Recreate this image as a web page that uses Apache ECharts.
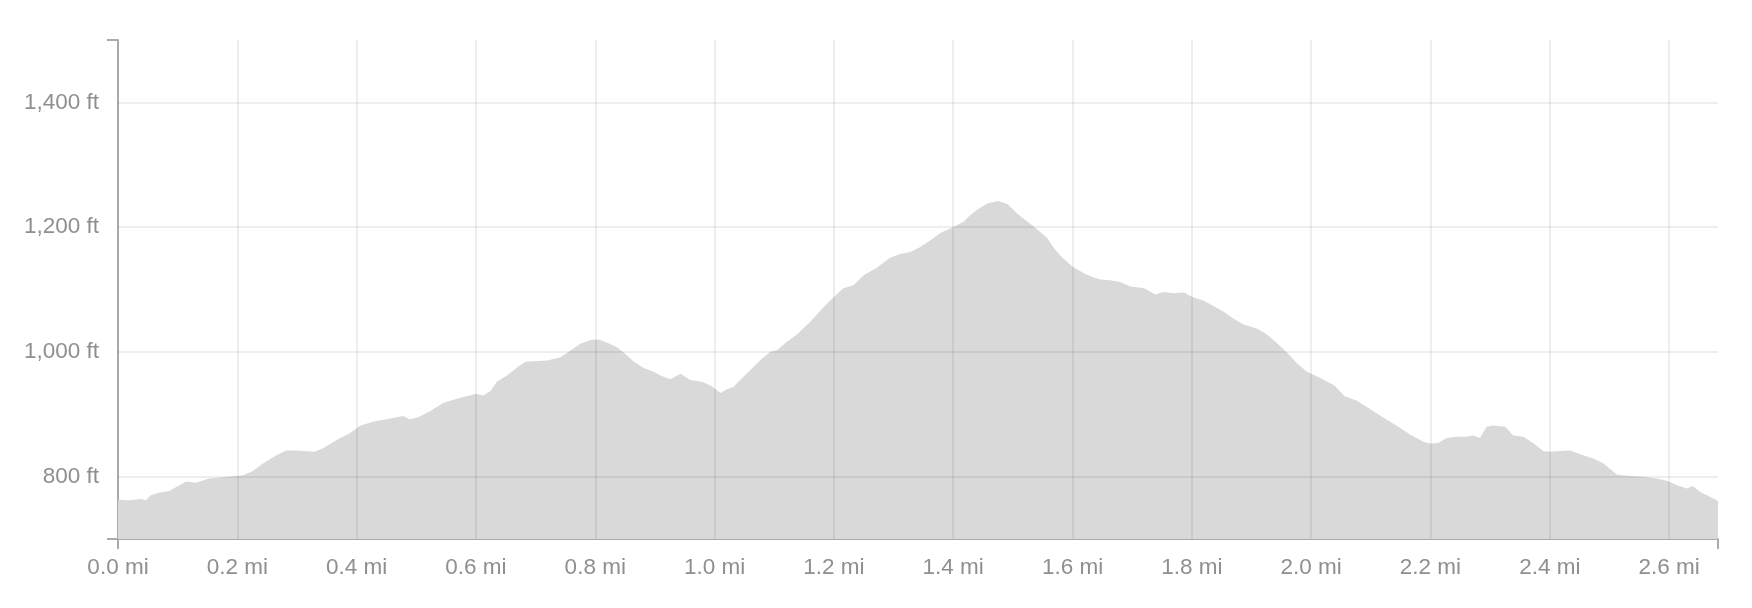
<!DOCTYPE html>
<html>
<head>
<meta charset="utf-8">
<script src="https://cdn.jsdelivr.net/npm/echarts@6/dist/echarts.min.js"></script>
<style>
html,body{margin:0;padding:0;background:#fff;}
#chart{width:1752px;height:608px;}
</style>
</head>
<body>
<div id="chart"></div>
<script>
// distance along trail (mi)
const distance = [
0,0.0185,0.038,0.0465,0.055,0.069,0.0857,0.097,0.114,0.1305,0.153,0.175,0.198,0.209,0.226,0.243,0.265,0.282,0.299,0.329,
0.343,0.357,0.371,0.388,0.405,0.427,0.45,0.478,0.489,0.503,0.523,0.545,0.568,0.584,0.6,0.612,0.624,0.635,0.652,
0.669,0.683,0.697,0.719,0.741,0.758,0.775,0.792,0.806,0.822,0.836,0.85,0.864,0.881,0.898,0.912,0.926,0.943,0.959,0.979,
0.993,1.001,1.01,1.021,1.032,1.043,1.06,1.077,1.093,1.105,1.121,1.138,1.16,1.183,1.199,1.216,1.233,1.25,1.272,1.294,1.311,1.328,
1.345,1.362,1.379,1.4,1.418,1.426,1.44,1.457,1.475,1.491,1.507,1.524,1.541,1.558,1.569,1.583,1.601,1.619,1.633,1.647,
1.664,1.68,1.697,1.72,1.739,1.753,1.77,1.787,1.801,1.82,1.837,1.854,1.87,1.887,1.91,1.926,1.943,1.96,1.977,1.993,
2.014,2.039,2.056,2.076,2.098,2.12,2.143,2.165,2.188,2.2,2.213,2.227,2.244,2.258,2.272,2.283,2.294,2.305,2.325,2.339,
2.356,2.373,2.389,2.399,2.417,2.434,2.451,2.473,2.49,2.513,2.535,2.557,2.58,2.6,2.613,2.63,2.639,2.653,2.67,2.682
];
// elevation (ft)
const elevation = [
763,762,764,762,770,774,777,783,792,790,797,799,801,802,809,821,834,842,842,840,
845,853,861,869,881,888,892,897,892,895,905,918,925,929,933,930,937,952,962,
975,984,985,986,991,1002,1013,1019,1020,1014,1008,997,985,974,968,961,956,965,955,952,
946,941,934,940,944,955,971,987,1000,1003,1016,1028,1048,1072,1087,1102,1107,1123,1135,1151,1157,1160,
1168,1179,1191,1200,1209,1217,1228,1238,1242,1237,1222,1209,1196,1182,1166,1151,1136,1126,1120,1116,
1115,1112,1105,1102,1092,1096,1094,1095,1088,1082,1073,1064,1053,1044,1037,1028,1014,998,981,968,
959,946,929,922,909,895,882,868,856,853,854,862,864,864,866,862,880,882,880,866,
864,853,841,840,841,842,836,829,821,803,801,800,797,792,786,781,785,775,767,761
];
const yTickLabels = [800, 1000, 1200, 1400];
const xTickLabels = [0, 0.2, 0.4, 0.6, 0.8, 1.0, 1.2, 1.4, 1.6, 1.8, 2.0, 2.2, 2.4, 2.6];
const yRange = [700, 1500];

const points = distance.map((d, i) => [d, elevation[i]]);
const xMax = distance[distance.length - 1];
const font = "'Liberation Sans', Arial, sans-serif";

const chart = echarts.init(document.getElementById('chart'), null, {renderer: 'canvas'});
chart.setOption({
  animation: false,
  backgroundColor: '#fff',
  grid: {left: 118, right: 34, top: 40, height: 499, containLabel: false},
  xAxis: {
    type: 'value', min: 0, max: xMax,
    axisLine: {show: true, lineStyle: {color: '#aaa', width: 2}},
    axisTick: {show: true, length: 10, lineStyle: {color: '#aaa', width: 2}, customValues: [0, xMax]},
    splitLine: {show: false},
    axisLabel: {
      customValues: xTickLabels, margin: 17,
      color: '#8f8f8f', fontSize: 22.5, fontFamily: font,
      formatter: v => v.toFixed(1) + ' mi'
    }
  },
  yAxis: {
    type: 'value', min: yRange[0], max: yRange[1],
    axisLine: {show: true, lineStyle: {color: '#aaa', width: 2}},
    axisTick: {show: true, length: 11, lineStyle: {color: '#aaa', width: 2}, customValues: yRange},
    splitLine: {show: false},
    axisLabel: {
      customValues: yTickLabels, margin: 19,
      color: '#8f8f8f', fontSize: 22.5, fontFamily: font,
      formatter: v => v.toLocaleString('en-US') + ' ft'
    }
  },
  series: [{
    type: 'line',
    data: points,
    symbol: 'none',
    lineStyle: {width: 0},
    areaStyle: {color: '#d9d9d9', opacity: 1},
    silent: true,
    markLine: {
      silent: true,
      symbol: ['none', 'none'],
      label: {show: false},
      lineStyle: {type: 'solid', color: 'rgba(0,0,0,0.065)', width: 2},
      data: [
        ...yTickLabels.map(v => ({yAxis: v})),
        ...xTickLabels.filter(v => v > 0).map(v => ({xAxis: v}))
      ]
    }
  }]
});
</script>
</body>
</html>
